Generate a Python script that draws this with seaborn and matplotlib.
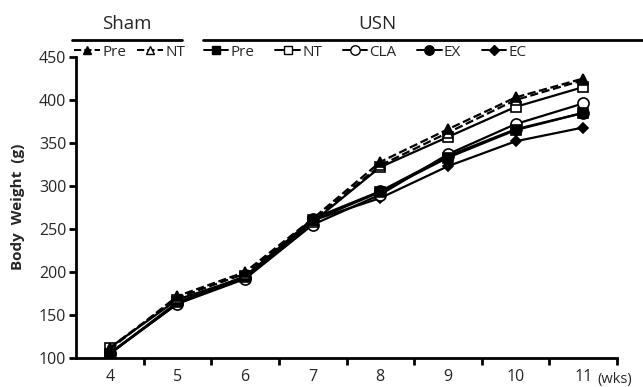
import matplotlib
matplotlib.use("Agg")
import matplotlib.pyplot as plt
from matplotlib.lines import Line2D
import seaborn as sns
import pandas as pd

weeks = [4, 5, 6, 7, 8, 9, 10, 11]
week_labels = ["4", "5", "6", "7", "8", "9", "10", "11"]

sham_pre = [110, 172, 200, 262, 328, 366, 403, 425]
sham_nt = [112, 170, 198, 260, 324, 362, 400, 423]
usn_pre = [105, 165, 195, 260, 293, 333, 365, 385]
usn_nt = [112, 168, 194, 258, 322, 357, 392, 415]
usn_cla = [106, 163, 192, 255, 290, 337, 372, 396]
usn_ex = [105, 164, 194, 262, 294, 335, 366, 385]
usn_ec = [105, 163, 195, 260, 286, 323, 352, 368]

yticks = [100, 150, 200, 250, 300, 350, 400, 450]

sns.set_theme(style="ticks")
plt.rcParams["font.family"] = ["Open Sans", "DejaVu Sans"]

fig = plt.figure(figsize=(6.43, 3.87), dpi=100)
ax = fig.add_axes([76/643, 29/387, 541/643, 301/387])

series = [
    ("Pre", sham_pre, "^", "black", "--", 7),
    ("NT", sham_nt, "^", "white", "--", 7),
    ("Pre", usn_pre, "s", "black", "-", 6.5),
    ("NT", usn_nt, "s", "white", "-", 6.5),
    ("CLA", usn_cla, "o", "white", "-", 8),
    ("EX", usn_ex, "o", "black", "-", 8),
    ("EC", usn_ec, "D", "black", "-", 5.5),
]

handles = []
for i, (name, vals, mk, fc, ls, ms) in enumerate(series):
    df = pd.DataFrame({"week": weeks, "w": vals})
    sns.lineplot(data=df, x="week", y="w", ax=ax, color="black",
                 marker=mk, markerfacecolor=fc, markeredgecolor="black",
                 markeredgewidth=1.2, markersize=ms, linestyle=ls,
                 linewidth=1.6, zorder=10 - i)
    handles.append(Line2D([], [], color="black", marker=mk, markerfacecolor=fc,
                          markeredgecolor="black", markeredgewidth=1.0,
                          markersize=ms * 0.85, linestyle=ls, linewidth=1.4))

ax.set_xlim(3.5, 11.5)
ax.set_ylim(100, 450)
ax.set_yticks(yticks)
ax.set_xticks(weeks)
ax.set_xticklabels(week_labels)
ax.set_xticks([w + 0.5 for w in weeks], minor=True)
ax.tick_params(axis="x", which="major", length=0, labelsize=11.5, pad=8)
ax.tick_params(axis="x", which="minor", length=5, width=2, direction="out", color="black")
ax.tick_params(axis="y", length=5, width=2, direction="out", labelsize=11.5, pad=2, color="black")
ax.set_xlabel("")
ax.set_ylabel("")
for s in ["top", "right"]:
    ax.spines[s].set_visible(False)
for s in ["left", "bottom"]:
    ax.spines[s].set_linewidth(2)
    ax.spines[s].set_color("black")
ax.grid(False)

fig.text(597/643, 1 - 379/387, "(wks)", fontsize=10.5, ha="left", va="center")
fig.text(18/643, 1 - 207/387, "Body  Weight  (g)", fontsize=11, fontweight="bold",
         rotation=90, ha="center", va="center")

# group headers
fig.text(127/643, 1 - 24/387, "Sham", fontsize=13.5, ha="center", va="center")
fig.text(377/643, 1 - 24/387, "USN", fontsize=13.5, ha="center", va="center")
fig.add_artist(Line2D([72/643, 182/643], [1 - 40/387, 1 - 40/387], color="black", linewidth=2))
fig.add_artist(Line2D([203/643, 643/643], [1 - 40/387, 1 - 40/387], color="black", linewidth=2))

leg1 = fig.legend(handles[:2], [s[0] for s in series[:2]], loc="center left",
                  bbox_to_anchor=(74/643, 1 - 52/387), ncol=2, frameon=False,
                  fontsize=11, handlelength=1.7, handletextpad=0.15,
                  columnspacing=0.7, borderpad=0, borderaxespad=0, numpoints=1)
leg2 = fig.legend(handles[2:], [s[0] for s in series[2:]], loc="center left",
                  bbox_to_anchor=(204/643, 1 - 52/387), ncol=5, frameon=False,
                  fontsize=11, handlelength=1.6, handletextpad=0.15,
                  columnspacing=1.35, borderpad=0, borderaxespad=0, numpoints=1)

fig.savefig("out.png", dpi=100)
